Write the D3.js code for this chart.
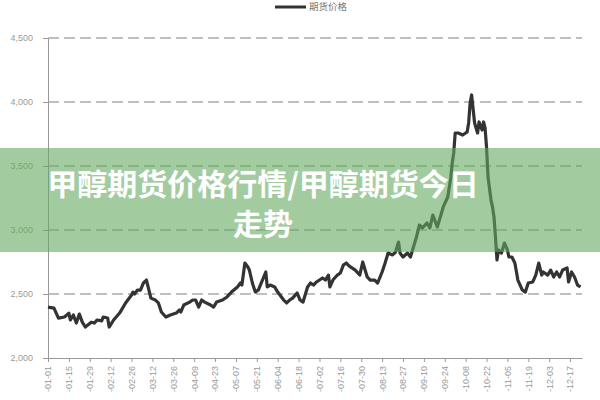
<!DOCTYPE html>
<meta charset="utf-8">
<html>
<style>
body { margin: 0; background: #fff; }
svg { display: block; font-family: "Liberation Sans", "DejaVu Sans", sans-serif; }
.grid line { stroke: #aaa; stroke-width: 1.5px; stroke-dasharray: 11,5; }
.axis path, .axis line { stroke: #999; }
.axis text { fill: #999; font-size: 9px; }
.price { fill: none; stroke: #333; stroke-width: 3.2px; stroke-linejoin: round; }
.band { fill: rgba(100,170,95,0.6); }
.title { fill: #fff; font-family: "Noto Sans CJK SC", sans-serif; font-weight: bold; font-size: 30px; text-anchor: middle; }
</style>
<body>
<script src="https://cdnjs.cloudflare.com/ajax/libs/d3/7.8.5/d3.min.js"></script>
<script>
	var year = 2011;
	var seriesName = "期货价格";
	var titleLines = ["甲醇期货价格行情/甲醇期货今日", "走势"];

	var dates = ["01-01","01-05","01-08","01-12","01-15","01-16","01-18","01-20","01-22","01-24",
		"01-26","01-30","02-01","02-03","02-06","02-07","02-10","02-11","02-14","02-18",
		"02-22","02-26","02-27","02-28","03-02","03-04","03-06","03-08","03-11","03-14",
		"03-16","03-18","03-21","03-24","03-28","03-30","03-31","04-02","04-06","04-08",
		"04-10","04-12","04-14","04-16","04-20","04-22","04-24","04-28","05-01","05-04",
		"05-08","05-10","05-11","05-13","05-15","05-16","05-18","05-20","05-22","05-24",
		"05-27","05-28","05-30","06-02","06-04","06-08","06-10","06-12","06-14","06-17",
		"06-19","06-21","06-24","06-26","06-28","06-30","07-04","07-06","07-08","07-09",
		"07-11","07-14","07-16","07-18","07-20","07-22","07-26","07-29","07-31","08-03",
		"08-05","08-08","08-10","08-13","08-15","08-17","08-20","08-22","08-24","08-25",
		"08-27","08-30","09-01","09-03","09-05","09-07","09-09","09-12","09-14","09-16",
		"09-19","09-21","09-23","09-26","09-28","09-29","09-30","10-01","10-03","10-06",
		"10-09","10-10","10-11","10-12","10-14","10-16","10-17","10-19","10-20","10-21",
		"10-22","10-23","10-25","10-26","10-27","10-28","10-29","10-30","11-01","11-03",
		"11-05","11-06","11-08","11-10","11-12","11-15","11-17","11-19","11-22","11-24",
		"11-26","11-28","11-29","12-02","12-04","12-06","12-08","12-10","12-12","12-15",
		"12-16","12-18","12-20","12-22","12-24"];

	var prices = [2398,2390,2312,2320,2350,2297,2336,2273,2343,2280,
		2242,2280,2273,2297,2290,2320,2312,2242,2297,2351,
		2430,2492,2515,2500,2531,2531,2586,2609,2468,2453,
		2430,2359,2320,2336,2351,2375,2359,2414,2437,2453,
		2453,2398,2453,2437,2414,2398,2437,2453,2477,2515,
		2555,2586,2570,2742,2711,2687,2586,2515,2531,2586,
		2672,2555,2570,2555,2515,2453,2430,2453,2468,2508,
		2453,2437,2555,2586,2570,2594,2625,2609,2648,2555,
		2609,2648,2664,2726,2742,2718,2687,2648,2750,2633,
		2609,2609,2586,2672,2742,2820,2805,2828,2906,2820,
		2789,2820,2789,2867,2945,3039,3016,3055,3016,3117,
		3023,3102,3180,3258,3406,3523,3602,3758,3758,3742,
		3766,3836,3992,4055,3836,3758,3844,3781,3844,3797,
		3648,3414,3234,3180,3102,2945,2766,2844,2820,2898,
		2844,2789,2789,2742,2609,2531,2515,2586,2594,2648,
		2742,2648,2672,2648,2687,2633,2672,2633,2687,2703,
		2594,2672,2633,2570,2555];

	var tickLabels = ["01-01","01-15","01-29","02-12","02-26","03-12","03-26","04-09","04-23",
		"05-07","05-21","06-04","06-18","07-02","07-16","07-30","08-13","08-27","09-10",
		"09-24","10-08","10-22","11-05","11-19","12-03","12-17"];
	var yTicks = [2000, 2500, 3000, 3500, 4000, 4500];
	var xEnd = "12-25";

	var width = 600, height = 400;
	var parse = d3.timeParse("%Y-%m-%d");
	var toDate = s => parse(year + "-" + s);

	var data = dates.map((d, i) => ({date: toDate(d), value: prices[i]}));

	var x = d3.scaleTime()
		.domain([toDate(dates[0]), toDate(xEnd)])
		.range([48, 582]);
	var y = d3.scaleLinear()
		.domain([2000, 4500])
		.range([358, 38]);

	var svg = d3.select("body").append("svg")
		.attr("width", width)
		.attr("height", height);

	// gridlines
	svg.append("g")
		.attr("class", "grid")
		.selectAll("line")
		.data(yTicks.slice(1))
		.enter()
		.append("line")
		.attr("x1", x.range()[0])
		.attr("x2", x.range()[1])
		.attr("y1", d => y(d))
		.attr("y2", d => y(d));

	svg.append("g")
		.attr("class", "axis")
		.attr("transform", "translate(" + x.range()[0] + ",0)")
		.call(d3.axisLeft(y).tickValues(yTicks).tickFormat(d3.format(",")).tickSize(5).tickSizeOuter(0).tickPadding(10));

	var xAxis = svg.append("g")
		.attr("class", "axis")
		.attr("transform", "translate(0," + y.range()[0] + ")")
		.call(d3.axisBottom(x).tickValues(tickLabels.map(toDate)).tickFormat(d3.timeFormat("-%m-%d")).tickSize(4).tickSizeOuter(0));
	xAxis.selectAll("text")
		.attr("transform", "rotate(-90)")
		.attr("text-anchor", "end")
		.attr("x", -8)
		.attr("y", 0)
		.attr("dy", "0.32em");

	var line = d3.line()
		.x(d => x(d.date))
		.y(d => y(d.value));

	svg.append("path")
		.datum(data)
		.attr("class", "price")
		.attr("d", line);

	// legend
	var legend = svg.append("g").attr("transform", "translate(275,7)");
	legend.append("line")
		.attr("x1", 0).attr("x2", 31)
		.attr("stroke", "#333").attr("stroke-width", 3);
	legend.append("text")
		.attr("x", 34).attr("dy", "0.35em")
		.attr("fill", "#777")
		.style("font-family", "'Noto Sans CJK SC', sans-serif")
		.style("font-size", "9.5px")
		.text(seriesName);

	// title band
	svg.append("rect")
		.attr("class", "band")
		.attr("x", 0).attr("y", 148)
		.attr("width", width).attr("height", 104);
	svg.selectAll(".title")
		.data(titleLines)
		.enter()
		.append("text")
		.attr("class", "title")
		.attr("x", 263)
		.attr("y", (d, i) => 195 + i * 40)
		.text(d => d);
</script>
</body>
</html>
